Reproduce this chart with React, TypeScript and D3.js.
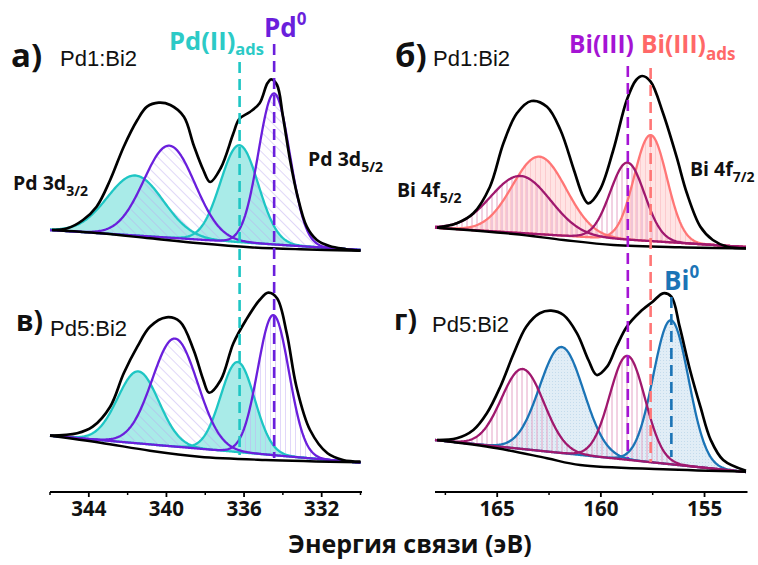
import React from "react";
import * as d3 from "d3";

type Pt = [number, number];

// ================= axis data =================
const pdDomain: Pt = [346, 330];
const biDomain: Pt = [168, 153];
const pdTicks = [344, 340, 336, 332];
const pdMinorTicks = [346, 342, 338, 334, 330];
const biTicks = [165, 160, 155];
const biMinorTicks = [167.5, 162.5, 157.5];
const axisTitle = "Энергия связи (эВ)";

// ================= panel а: Pd1:Bi2, Pd 3d =================
// components: Pd(II)ads 3d3/2, Pd0 3d3/2, Pd(II)ads 3d5/2, Pd0 3d5/2
const aCenters = [341.6, 339.85, 336.24, 334.45];
const aHeights = [60, 92, 97, 151];
const aFwhm = [3.4, 3.1, 2.3, 1.9];
const aBase: Pt[] = [[346, 22], [330, 2]];
const aBackground: Pt[] = [[345.9, 22], [343.4, 18.7], [340.85, 13.7], [338.3, 8.7], [335.7, 4.7], [333.1, 2.7], [330, 1.3]];
const aEnvelope: Pt[] = [
  [345.9, 22], [345.1, 23.7], [344.3, 32], [343.6, 45.3], [342.9, 72], [342.2, 105.3], [341.5, 132],
  [341.0, 145.3], [340.4, 149.3], [339.8, 147], [339.1, 135.3], [338.6, 107], [338.1, 82], [337.75, 70],
  [337.2, 84], [336.55, 118.7], [336.25, 133], [335.7, 140], [335.2, 148.7], [334.8, 168.7], [334.6, 172.7],
  [334.3, 167], [334.0, 136], [333.63, 92], [333.28, 58.7], [332.77, 25.3], [332.25, 12], [331.6, 6],
  [330.8, 3], [330.0, 1.3],
];

// ================= panel в: Pd5:Bi2, Pd 3d =================
const vCenters = [341.45, 339.56, 336.33, 334.49];
const vHeights = [72, 108, 90, 140];
const vFwhm = [2.5, 2.75, 2.06, 1.89];
const vBase: Pt[] = [[346, 29.3], [330, 2.3]];
const vBackground: Pt[] = [[346, 29.3], [343.4, 22.3], [340.85, 14.3], [338.3, 8.3], [334.9, 5], [330, 2.7]];
const vEnvelope: Pt[] = [
  [346.0, 29.3], [344.6, 31.7], [343.8, 38.3], [342.9, 58.3], [342.2, 91.7], [341.5, 118.3], [340.85, 138.3],
  [340.0, 147.7], [339.3, 143.3], [338.6, 115], [338.1, 85], [337.8, 72.3], [337.2, 85], [336.55, 121.7],
  [335.9, 145], [335.2, 165], [334.75, 172.3], [334.3, 166.7], [333.8, 131.7], [333.3, 78.3], [332.6, 35],
  [331.7, 11.7], [330.9, 5], [330.0, 3.3],
];

// ================= panel б: Pd1:Bi2, Bi 4f =================
// components: Bi(III) 4f5/2, Bi(III)ads 4f5/2, Bi(III) 4f7/2, Bi(III)ads 4f7/2
const bCenters = [163.87, 162.97, 158.72, 157.6];
const bHeights = [57, 77.5, 77, 106];
const bFwhm = [3.4, 3.05, 1.95, 1.85];
const bBase: Pt[] = [[168, 24.3], [153, 5]];
const bBackground: Pt[] = [[167.9, 24.3], [164.2, 18], [161.8, 12], [159.4, 7], [156.2, 4.7], [153.0, 3.7]];
const bEnvelope: Pt[] = [
  [167.9, 24.3], [166.95, 28.7], [166.15, 38.7], [165.35, 65.3], [164.7, 108.7], [164.05, 138.7],
  [163.35, 151], [162.6, 145.3], [161.95, 122], [161.3, 82], [160.85, 55.3], [160.6, 48.7], [160.05, 62],
  [159.4, 102], [158.75, 152], [158.3, 172], [158.0, 176], [157.6, 170.3], [157.0, 138.7], [156.35, 95.3],
  [155.85, 58.7], [155.2, 25.3], [154.6, 12], [153.9, 5.3], [153.0, 3.7],
];

// ================= panel г: Pd5:Bi2, Bi 4f =================
// components: Bi(III) 4f5/2, Bi0 4f5/2, Bi(III) 4f7/2, Bi0 4f7/2
const gCenters = [163.77, 161.89, 158.72, 156.62];
const gHeights = [80, 106, 104, 144];
const gFwhm = [2.41, 2.5, 2.0, 2.0];
const gBase: Pt[] = [[168, 35], [153, 3]];
const gBackground: Pt[] = [[167.9, 35], [165.0, 26.7], [162.6, 16.7], [161.0, 10], [157.0, 5.7], [153.0, 3.3]];
const gEnvelope: Pt[] = [
  [167.9, 35], [166.95, 36.7], [166.15, 45], [165.5, 61.7], [164.85, 88.3], [164.2, 121.7], [163.6, 148.3],
  [162.95, 161.7], [162.4, 164.3], [161.8, 160], [161.15, 141.7], [160.6, 115], [160.2, 100], [159.7, 108.3],
  [159.25, 128.3], [158.75, 148.3], [158.1, 163.3], [157.5, 173.3], [157.0, 181.7], [156.6, 178.3],
  [156.2, 148.3], [155.7, 105], [155.2, 68.3], [154.7, 35], [154.1, 15], [153.0, 4.3],
];

// reference positions (eV)
const pdIIads = 336.23;
const pd0 = 334.45;
const biIII = 158.7;
const biIIIads = 157.6;
const bi0 = 156.6;

// ================= styles =================
const C = {
  cyan: "#1ec6c4",
  purple: "#6a1fdc",
  magenta: "#a0186e",
  salmon: "#ff7676",
  blue: "#1b74b6",
  violet: "#a514d4",
  cyanLabel: "#2ccac6",
  salmonLabel: "#ff6868",
};
const BOLD = "'Open Sans', 'Noto Sans', sans-serif";
const PLAIN = "'Liberation Sans', Arial, sans-serif";

const xPd = d3.scaleLinear().domain(pdDomain).range([50, 360.5]);
const xBi = d3.scaleLinear().domain(biDomain).range([435, 746]);

function gauss(E: number, c: number, h: number, fwhm: number) {
  const s = fwhm / 2.3548;
  return h * Math.exp(-0.5 * ((E - c) / s) ** 2);
}

type PanelProps = {
  x: d3.ScaleLinear<number, number>;
  yBottom: number;
  centers: number[];
  heights: number[];
  fwhm: number[];
  base: Pt[];
  background: Pt[];
  envelope: Pt[];
  colors: string[];
  fills: string[];
  fillOrder: number[];
  lineOrder: number[];
};

function Panel(p: PanelProps) {
  const y = d3.scaleLinear().domain([0, 200]).range([p.yBottom, p.yBottom - 200]);
  const [e0, e1] = p.x.domain();
  const baseAt = (E: number) =>
    p.base[0][1] + ((p.base[1][1] - p.base[0][1]) * (E - p.base[0][0])) / (p.base[1][0] - p.base[0][0]);
  const n = 320;
  const es = d3.range(n + 1).map((i) => e0 + ((e1 - e0) * i) / n);
  const comp = (k: number) => es.map((E) => [E, baseAt(E), baseAt(E) + gauss(E, p.centers[k], p.heights[k], p.fwhm[k])] as [number, number, number]);
  const area = d3
    .area<[number, number, number]>()
    .x((d) => p.x(d[0]))
    .y0((d) => y(d[1]))
    .y1((d) => y(d[2]));
  const cline = d3
    .line<[number, number, number]>()
    .x((d) => p.x(d[0]))
    .y((d) => y(d[2]));
  const line = d3
    .line<Pt>()
    .x((d) => p.x(d[0]))
    .y((d) => y(d[1]))
    .curve(d3.curveCatmullRom.alpha(0.5));
  return (
    <g>
      {p.fillOrder.map((k) => (
        <path key={"f" + k} d={area(comp(k)) || ""} fill={p.fills[k]} stroke="none" />
      ))}
      {p.lineOrder.map((k) => (
        <path key={"l" + k} d={cline(comp(k)) || ""} fill="none" stroke={p.colors[k]} strokeWidth={2.3} strokeLinejoin="round" />
      ))}
      <path d={line(p.background) || ""} fill="none" stroke="#000" strokeWidth={2.4} />
      <path d={line(p.envelope) || ""} fill="none" stroke="#000" strokeWidth={2.7} strokeLinejoin="round" />
    </g>
  );
}

function Axis({ x, ticks, minor, y }: { x: d3.ScaleLinear<number, number>; ticks: number[]; minor: number[]; y: number }) {
  const [r0, r1] = x.range();
  return (
    <g>
      <line x1={r0} x2={r1 + 1.5} y1={y} y2={y} stroke="#000" strokeWidth={2.2} />
      {ticks.map((t) => (
        <g key={t}>
          <line x1={x(t)} x2={x(t)} y1={y} y2={y + 5} stroke="#000" strokeWidth={1.8} />
          <text x={x(t)} y={y + 24} textAnchor="middle" fontFamily={BOLD} fontWeight={700} fontSize={20.5} fill="#111">
            {t}
          </text>
        </g>
      ))}
      {minor.map((t) => (
        <line key={"m" + t} x1={x(t)} x2={x(t)} y1={y} y2={y + 3} stroke="#000" strokeWidth={1.5} />
      ))}
    </g>
  );
}

function PeakLabel({ x, y, main, sub }: { x: number; y: number; main: string; sub: string }) {
  return (
    <text x={x} y={y} fontFamily={BOLD} fontWeight={700} fontSize={19.5} fill="#111">
      {main}
      <tspan fontSize={14} dy={6}>
        {sub}
      </tspan>
    </text>
  );
}

function Dashed({ x, y1, y2, color }: { x: number; y1: number; y2: number; color: string }) {
  return <line x1={x} x2={x} y1={y1} y2={y2} stroke={color} strokeWidth={2.6} strokeDasharray="11 6" />;
}

export default function App() {
  return (
    <svg width={758} height={565} style={{ position: "absolute", left: 0, top: 0, background: "#fff" }}>
      <defs>
        <pattern id="purpleDiag" width={7} height={7} patternUnits="userSpaceOnUse" patternTransform="rotate(-45)">
          <line x1={0} y1={0} x2={0} y2={7} stroke="#bba7f0" strokeWidth={0.9} />
        </pattern>
        <pattern id="purpleVert" width={5} height={5} patternUnits="userSpaceOnUse">
          <line x1={0} y1={0} x2={0} y2={5} stroke="#c4b0f4" strokeWidth={1} />
        </pattern>
        <pattern id="salmonFill" width={5} height={5} patternUnits="userSpaceOnUse">
          <rect width={5} height={5} fill="#ffe4e4" />
          <line x1={0} y1={0} x2={0} y2={5} stroke="#f9b2b8" strokeWidth={1} />
        </pattern>
        <pattern id="magentaVert" width={5} height={5} patternUnits="userSpaceOnUse">
          <line x1={2} y1={0} x2={2} y2={5} stroke="#e4a4c6" strokeWidth={1} />
        </pattern>
        <pattern id="blueFill" width={3} height={3} patternUnits="userSpaceOnUse">
          <rect width={3} height={3} fill="#e1edf6" />
          <rect width={1} height={1} fill="#c4dbec" />
        </pattern>
      </defs>

      {/* panel а */}
      <Panel
        x={xPd}
        yBottom={252}
        centers={aCenters}
        heights={aHeights}
        fwhm={aFwhm}
        base={aBase}
        background={aBackground}
        envelope={aEnvelope}
        colors={[C.cyan, C.purple, C.cyan, C.purple]}
        fills={["#a9ebe8", "url(#purpleDiag)", "#a9ebe8", "url(#purpleDiag)"]}
        fillOrder={[0, 2, 1, 3]}
        lineOrder={[0, 2, 1, 3]}
      />
      {/* panel в */}
      <Panel
        x={xPd}
        yBottom={465}
        centers={vCenters}
        heights={vHeights}
        fwhm={vFwhm}
        base={vBase}
        background={vBackground}
        envelope={vEnvelope}
        colors={[C.cyan, C.purple, C.cyan, C.purple]}
        fills={["#a9ebe8", "url(#purpleDiag)", "#a9ebe8", "url(#purpleVert)"]}
        fillOrder={[0, 2, 1, 3]}
        lineOrder={[0, 2, 1, 3]}
      />
      {/* panel б */}
      <Panel
        x={xBi}
        yBottom={252}
        centers={bCenters}
        heights={bHeights}
        fwhm={bFwhm}
        base={bBase}
        background={bBackground}
        envelope={bEnvelope}
        colors={[C.magenta, C.salmon, C.magenta, C.salmon]}
        fills={["url(#magentaVert)", "url(#salmonFill)", "url(#magentaVert)", "url(#salmonFill)"]}
        fillOrder={[1, 3, 0, 2]}
        lineOrder={[1, 3, 0, 2]}
      />
      {/* panel г */}
      <Panel
        x={xBi}
        yBottom={475}
        centers={gCenters}
        heights={gHeights}
        fwhm={gFwhm}
        base={gBase}
        background={gBackground}
        envelope={gEnvelope}
        colors={[C.magenta, C.blue, C.magenta, C.blue]}
        fills={["url(#magentaVert)", "url(#blueFill)", "url(#magentaVert)", "url(#blueFill)"]}
        fillOrder={[1, 3, 0, 2]}
        lineOrder={[1, 3, 0, 2]}
      />

      {/* reference dashed lines */}
      <Dashed x={xPd(pdIIads)} y1={62} y2={455} color={C.cyan} />
      <Dashed x={xPd(pd0)} y1={44} y2={458} color={C.purple} />
      <Dashed x={xBi(biIII)} y1={66} y2={458} color={C.violet} />
      <Dashed x={xBi(biIIIads)} y1={68} y2={462} color={C.salmon} />
      <Dashed x={xBi(bi0)} y1={297} y2={457} color={C.blue} />

      {/* axes */}
      <Axis x={xPd} ticks={pdTicks} minor={pdMinorTicks} y={492} />
      <Axis x={xBi} ticks={biTicks} minor={biMinorTicks} y={492} />
      <text x={410} y={553} textAnchor="middle" fontFamily={BOLD} fontWeight={700} fontSize={25} fill="#111">
        {axisTitle}
      </text>

      {/* panel letters */}
      <text x={11} y={67} fontFamily={BOLD} fontWeight={700} fontSize={33} fill="#111">а)</text>
      <text x={60} y={66} fontFamily={PLAIN} fontSize={22} fill="#111">Pd1:Bi2</text>
      <text x={395} y={67} fontFamily={BOLD} fontWeight={700} fontSize={33} fill="#111">б)</text>
      <text x={433} y={66} fontFamily={PLAIN} fontSize={22} fill="#111">Pd1:Bi2</text>
      <text x={16} y={331} fontFamily={BOLD} fontWeight={700} fontSize={28} fill="#111">в)</text>
      <text x={50} y={336} fontFamily={PLAIN} fontSize={22} fill="#111">Pd5:Bi2</text>
      <text x={394} y={330} fontFamily={BOLD} fontWeight={700} fontSize={28} fill="#111">г)</text>
      <text x={432} y={332} fontFamily={PLAIN} fontSize={22} fill="#111">Pd5:Bi2</text>

      {/* peak labels */}
      <PeakLabel x={13} y={190} main="Pd 3d" sub="3/2" />
      <PeakLabel x={308} y={166} main="Pd 3d" sub="5/2" />
      <PeakLabel x={397} y={197} main="Bi 4f" sub="5/2" />
      <PeakLabel x={690} y={176} main="Bi 4f" sub="7/2" />

      {/* species labels */}
      <text x={169} y={50} fontFamily={BOLD} fontWeight={700} fontSize={25.5} fill={C.cyanLabel}>
        Pd(II)
        <tspan fontSize={16.5} dy={5}>ads</tspan>
      </text>
      <text x={264} y={37} fontFamily={BOLD} fontWeight={700} fontSize={26} fill={C.purple}>
        Pd
        <tspan fontSize={17} dy={-12}>0</tspan>
      </text>
      <text x={569} y={53} fontFamily={BOLD} fontWeight={700} fontSize={24.5} fill={C.violet}>
        Bi(III)
      </text>
      <text x={641} y={53} fontFamily={BOLD} fontWeight={700} fontSize={24.5} fill={C.salmonLabel}>
        Bi(III)
        <tspan fontSize={17} dy={7}>ads</tspan>
      </text>
      <text x={664} y={290} fontFamily={BOLD} fontWeight={700} fontSize={26} fill={C.blue}>
        Bi
        <tspan fontSize={17} dy={-12}>0</tspan>
      </text>
    </svg>
  );
}
